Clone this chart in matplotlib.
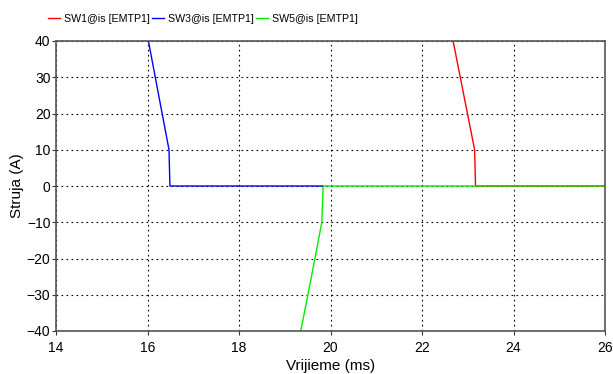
import matplotlib
matplotlib.use("Agg")
import matplotlib.pyplot as plt

plt.rcParams['font.family'] = ['Liberation Sans', 'DejaVu Sans']

# Data (time in ms, current in A)
sw1_t = [22.68, 23.15, 23.17, 26.0]
sw1_i = [40, 10, 0, 0]
sw3_t = [16.02, 16.47, 16.49, 19.84]
sw3_i = [40, 10, 0, 0]
sw5_t = [19.35, 19.66, 19.81, 19.84, 26.0]
sw5_i = [-40, -20, -10, 0, 0]

labels = ["SW1@is [EMTP1]", "SW3@is [EMTP1]", "SW5@is [EMTP1]"]
xticks = [14, 16, 18, 20, 22, 24, 26]
yticks = [-40, -30, -20, -10, 0, 10, 20, 30, 40]

fig = plt.figure(figsize=(6.13, 3.74), dpi=100)
ax = fig.add_axes([56/613, 43/374, 549/613, 290/374])

l1, = ax.plot(sw1_t, sw1_i, color='#ff0000', lw=1)
l3, = ax.plot(sw3_t, sw3_i, color='#0000ff', lw=1)
l5, = ax.plot(sw5_t, sw5_i, color='#00ee00', lw=1)

ax.set_xlim(14, 26)
ax.set_ylim(-40, 40)
ax.set_xticks(xticks)
ax.set_yticks(yticks)
ax.tick_params(direction='out', length=3, labelsize=10, pad=1, color='#333333')
ax.tick_params(axis='x', pad=4)
ax.grid(True, color='black', linestyle=(0, (1.5, 3)), linewidth=0.8)
for s in ax.spines.values():
    s.set_color('#555555')
    s.set_linewidth(1.2)
ax.set_xlabel("Vrijieme (ms)", fontsize=11, labelpad=3)
ax.set_ylabel("Struja (A)", fontsize=11, labelpad=2)

fig.legend([l1, l3, l5], labels, loc='center left', bbox_to_anchor=(48/613, 1 - 19/374),
           ncol=3, frameon=False, fontsize=7.7, handlelength=1.1, handletextpad=0.4,
           columnspacing=0.2, borderpad=0, borderaxespad=0)

fig.savefig("out.png", dpi=100)
